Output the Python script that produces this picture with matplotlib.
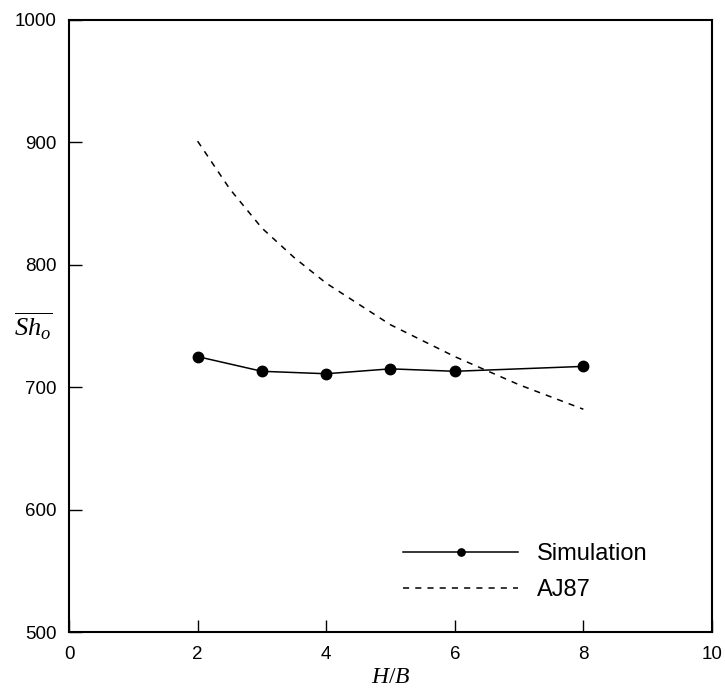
import matplotlib
matplotlib.use("Agg")
import matplotlib.pyplot as plt

# simulation results
hb_sim = [2, 3, 4, 5, 6, 8]
sh_sim = [725, 713, 711, 715, 713, 717]

# AJ87 correlation
hb_aj = [2, 2.5, 3, 3.5, 4, 5, 6, 7, 8]
sh_aj = [901, 862, 830, 806, 785, 751, 725, 702, 682]

plt.rcParams['font.family'] = ['Liberation Sans', 'DejaVu Sans']
plt.rcParams['mathtext.fontset'] = 'custom'
plt.rcParams['mathtext.it'] = 'Liberation Serif:italic'
plt.rcParams['mathtext.rm'] = 'Liberation Serif'

fig = plt.figure(figsize=(7.25, 6.89), dpi=100)
ax = fig.add_axes([0.0952, 0.0827, 0.8868, 0.8883])

ax.plot(hb_sim, sh_sim, color='black', lw=1.1, marker='o', markersize=7.5,
        label='Simulation')
ax.plot(hb_aj, sh_aj, color='black', lw=1.1, dashes=(4, 4), label='AJ87')

ax.set_xlim(0, 10)
ax.set_ylim(500, 1000)
ax.set_xticks([0, 2, 4, 6, 8, 10])
ax.set_yticks([500, 600, 700, 800, 900, 1000])
ax.tick_params(direction='in', length=9, width=1, labelsize=13.5, colors='black')
ax.tick_params(axis='x', pad=10)
ax.tick_params(axis='y', pad=9)
for s in ax.spines.values():
    s.set_linewidth(1.5)

ax.set_xlabel('$H/B$', fontsize=17, labelpad=2)
ax.set_ylabel(r'$\overline{Sh_o}$', fontsize=19, rotation=0, va='center',
              ha='center')
ax.yaxis.set_label_coords(-0.056, 0.5)

ax.legend(loc='lower left', bbox_to_anchor=(0.486, 0.016), frameon=False,
          fontsize=17, handlelength=4.9, handletextpad=0.8, labelspacing=0.6,
          markerscale=0.7)

fig.savefig('out.png', dpi=100)
